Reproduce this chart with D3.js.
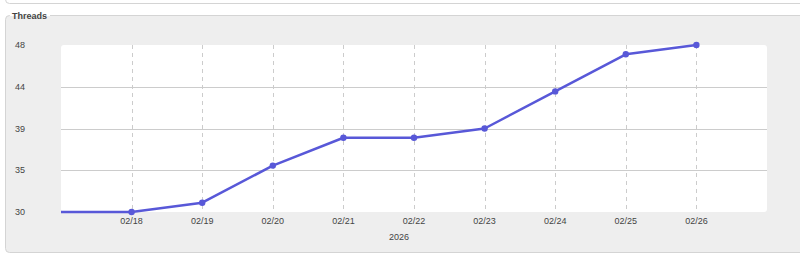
<!DOCTYPE html>
<html>
<head>
<meta charset="utf-8">
<script src="https://cdn.jsdelivr.net/npm/d3@7"></script>
<style>
  body { margin: 0; background: #fff; }
  svg { display: block; font-family: "Liberation Sans", Arial, sans-serif; }
</style>
</head>
<body>
<div id="chart"></div>
<script>
// data
var days = ['2026-02-16', '2026-02-17', '2026-02-18', '2026-02-19', '2026-02-20', '2026-02-21',
            '2026-02-22', '2026-02-23', '2026-02-24', '2026-02-25', '2026-02-26'];
var threads = [30, 30, 30, 31, 35, 38, 38, 39, 43, 47, 48];
var xTickDays = ['2026-02-18', '2026-02-19', '2026-02-20', '2026-02-21', '2026-02-22',
                 '2026-02-23', '2026-02-24', '2026-02-25', '2026-02-26'];
var xDomain = ['2026-02-17', '2026-02-27'];
var yTicks = [30, 34.5, 39, 43.5, 48];
var yTickLabels = ['30', '35', '39', '44', '48'];
var panelTitle = 'Threads';
var axisTitle = '2026';

var W = 800, H = 262;
var plot = { left: 61, right: 767, top: 45, bottom: 212 };

var parse = d3.utcParse('%Y-%m-%d');
var fmt = d3.utcFormat('%m/%d');

var svg = d3.select('#chart').append('svg')
  .attr('width', W)
  .attr('height', H);

// panel above (only its bottom edge shows)
svg.append('rect')
  .attr('x', 5.5).attr('y', -20.5)
  .attr('width', 820).attr('height', 24)
  .attr('rx', 4)
  .attr('fill', '#fff')
  .attr('stroke', '#d4d4d4');

// fieldset box
svg.append('rect')
  .attr('x', 5.5).attr('y', 15.5)
  .attr('width', 820).attr('height', 237)
  .attr('rx', 4)
  .attr('fill', '#eeeeee')
  .attr('stroke', '#d4d4d4');

// legend of the fieldset
svg.append('rect')
  .attr('x', 10).attr('y', 10)
  .attr('width', 40).attr('height', 10)
  .attr('fill', '#fff');
svg.append('rect')
  .attr('x', 10).attr('y', 16)
  .attr('width', 40).attr('height', 6)
  .attr('fill', '#eeeeee');
svg.append('text')
  .attr('x', 12).attr('y', 18.5)
  .attr('font-size', 9)
  .attr('font-weight', 'bold')
  .attr('fill', '#444')
  .text(panelTitle);

var x = d3.scaleUtc()
  .domain(xDomain.map(parse))
  .range([plot.left, plot.right]);
var y = d3.scaleLinear()
  .domain([yTicks[0], yTicks[yTicks.length - 1]])
  .range([plot.bottom, plot.top]);

svg.append('rect')
  .attr('x', plot.left).attr('y', plot.top)
  .attr('width', plot.right - plot.left)
  .attr('height', plot.bottom - plot.top)
  .attr('rx', 3)
  .attr('fill', '#fff');

svg.append('clipPath').attr('id', 'clip')
  .append('rect')
  .attr('x', plot.left).attr('y', plot.top - 6)
  .attr('width', plot.right - plot.left)
  .attr('height', plot.bottom - plot.top + 12);

// horizontal grid (inner ticks)
svg.append('g').selectAll('line')
  .data(yTicks.slice(1, -1))
  .enter().append('line')
  .attr('x1', plot.left).attr('x2', plot.right)
  .attr('y1', function (d) { return Math.round(y(d)) + 0.5; })
  .attr('y2', function (d) { return Math.round(y(d)) + 0.5; })
  .attr('stroke', '#cccccc');

// vertical dashed grid
svg.append('g').selectAll('line')
  .data(xTickDays)
  .enter().append('line')
  .attr('x1', function (d) { return Math.round(x(parse(d))) + 0.5; })
  .attr('x2', function (d) { return Math.round(x(parse(d))) + 0.5; })
  .attr('y1', plot.top).attr('y2', plot.bottom)
  .attr('stroke', '#cccccc')
  .attr('stroke-dasharray', '4,4');

// y labels
svg.append('g').selectAll('text')
  .data(yTicks)
  .enter().append('text')
  .attr('x', 15)
  .attr('y', function (d) { return y(d) + 3; })
  .attr('font-size', 9)
  .attr('fill', '#444')
  .text(function (d, i) { return yTickLabels[i]; });

// x labels
svg.append('g').selectAll('text')
  .data(xTickDays)
  .enter().append('text')
  .attr('x', function (d) { return x(parse(d)); })
  .attr('y', plot.bottom + 12)
  .attr('text-anchor', 'middle')
  .attr('font-size', 9)
  .attr('fill', '#444')
  .text(function (d) { return fmt(parse(d)); });

svg.append('text')
  .attr('x', 399).attr('y', plot.bottom + 28)
  .attr('text-anchor', 'middle')
  .attr('font-size', 9)
  .attr('fill', '#444')
  .text(axisTitle);

// series
var pts = days.map(function (d, i) { return { t: parse(d), v: threads[i] }; });
var line = d3.line()
  .x(function (d) { return x(d.t); })
  .y(function (d) { return y(d.v); });

var series = svg.append('g').attr('clip-path', 'url(#clip)');
series.append('path')
  .datum(pts)
  .attr('d', line)
  .attr('fill', 'none')
  .attr('stroke', '#5858d8')
  .attr('stroke-width', 2.5)
  .attr('stroke-linejoin', 'round');

series.selectAll('circle')
  .data(pts.filter(function (d) { return d.t >= x.domain()[0]; }).slice(1))
  .enter().append('circle')
  .attr('cx', function (d) { return x(d.t); })
  .attr('cy', function (d) { return y(d.v); })
  .attr('r', 3.2)
  .attr('fill', '#5858d8');
</script>
</body>
</html>
